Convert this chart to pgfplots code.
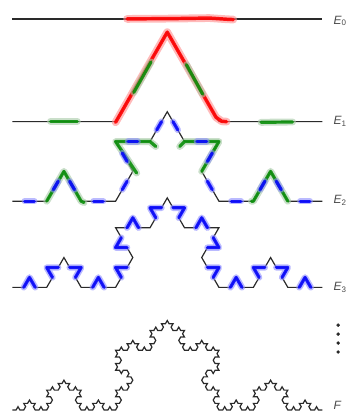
\documentclass[border=0pt]{standalone}
\usepackage{pgfplots}
\pgfplotsset{compat=1.18}
\usepackage{fontspec}
\setmainfont{Liberation Sans}
\definecolor{curve}{HTML}{2A2A2A}
\definecolor{lbl}{HTML}{4A4A4A}
\tikzset{
  curve/.style={draw=curve, line width=0.9pt, line join=miter, mark=none},
  redhl/.style={draw=red, line width=2.6pt, opacity=0.9, line cap=round, line join=round, mark=none,
     preaction={draw=red!45, line width=5.8pt, opacity=0.6, line cap=round, line join=round}},
  greenhl/.style={draw=green!55!black, line width=2.4pt, opacity=0.85, line cap=round, line join=round, mark=none,
     preaction={draw=green!40!black!35!white, line width=5.2pt, opacity=0.6, line cap=round, line join=round}},
  bluehl/.style={draw=blue, line width=2.4pt, opacity=0.85, line cap=round, line join=round, mark=none,
     preaction={draw=blue!45, line width=4.8pt, opacity=0.6, line cap=round, line join=round}},
  lab/.style={anchor=base west, inner sep=0pt, text=lbl, font=\fontsize{9}{10}\selectfont\itshape}
}
\begin{document}
\begin{tikzpicture}
\begin{axis}[
  at={(0,0)}, anchor=south west,
  x=1.4352pt, y=2.4858pt,
  xmin=0, xmax=162, ymin=0, ymax=118,
  hide axis, clip=false,
]
% ---------- black curves ----------
% E0
\addplot[curve] coordinates {(0,118) (162,118)};
% E1
\addplot[curve] coordinates {(0,87) (54,87) (81,114) (108,87) (162,87)};
% E2
\addplot[curve] coordinates {(0,63) (18,63) (27,72) (36,63) (54,63) (63,72) (54,81) (72,81) (81,90) (90,81) (108,81) (99,72) (108,63) (126,63) (135,72) (144,63) (162,63)};
% E3
\addplot[curve] coordinates {
(0,37) (6,37) (9,40) (12,37)
(18,37) (21,40) (18,43) (24,43)
(27,46) (30,43) (36,43) (33,40)
(36,37) (42,37) (45,40) (48,37)
(54,37) (57,40) (54,43) (60,43)
(63,46) (60,49) (54,49) (57,52)
(54,55) (60,55) (63,58) (66,55)
(72,55) (75,58) (72,61) (78,61)
(81,64) (84,61) (90,61) (87,58)
(90,55) (96,55) (99,58) (102,55)
(108,55) (105,52) (108,49) (102,49)
(99,46) (102,43) (108,43) (105,40)
(108,37) (114,37) (117,40) (120,37)
(126,37) (129,40) (126,43) (132,43)
(135,46) (138,43) (144,43) (141,40)
(144,37) (150,37) (153,40) (156,37)
(162,37)};
% F (level 4)
\addplot[curve] coordinates {
(0,0) (2,0) (3,1) (4,0)
(6,0) (7,1) (6,2) (8,2)
(9,3) (10,2) (12,2) (11,1)
(12,0) (14,0) (15,1) (16,0)
(18,0) (19,1) (18,2) (20,2)
(21,3) (20,4) (18,4) (19,5)
(18,6) (20,6) (21,7) (22,6)
(24,6) (25,7) (24,8) (26,8)
(27,9) (28,8) (30,8) (29,7)
(30,6) (32,6) (33,7) (34,6)
(36,6) (35,5) (36,4) (34,4)
(33,3) (34,2) (36,2) (35,1)
(36,0) (38,0) (39,1) (40,0)
(42,0) (43,1) (42,2) (44,2)
(45,3) (46,2) (48,2) (47,1)
(48,0) (50,0) (51,1) (52,0)
(54,0) (55,1) (54,2) (56,2)
(57,3) (56,4) (54,4) (55,5)
(54,6) (56,6) (57,7) (58,6)
(60,6) (61,7) (60,8) (62,8)
(63,9) (62,10) (60,10) (61,11)
(60,12) (58,12) (57,11) (56,12)
(54,12) (55,13) (54,14) (56,14)
(57,15) (56,16) (54,16) (55,17)
(54,18) (56,18) (57,19) (58,18)
(60,18) (61,19) (60,20) (62,20)
(63,21) (64,20) (66,20) (65,19)
(66,18) (68,18) (69,19) (70,18)
(72,18) (73,19) (72,20) (74,20)
(75,21) (74,22) (72,22) (73,23)
(72,24) (74,24) (75,25) (76,24)
(78,24) (79,25) (78,26) (80,26)
(81,27) (82,26) (84,26) (83,25)
(84,24) (86,24) (87,25) (88,24)
(90,24) (89,23) (90,22) (88,22)
(87,21) (88,20) (90,20) (89,19)
(90,18) (92,18) (93,19) (94,18)
(96,18) (97,19) (96,20) (98,20)
(99,21) (100,20) (102,20) (101,19)
(102,18) (104,18) (105,19) (106,18)
(108,18) (107,17) (108,16) (106,16)
(105,15) (106,14) (108,14) (107,13)
(108,12) (106,12) (105,11) (104,12)
(102,12) (101,11) (102,10) (100,10)
(99,9) (100,8) (102,8) (101,7)
(102,6) (104,6) (105,7) (106,6)
(108,6) (107,5) (108,4) (106,4)
(105,3) (106,2) (108,2) (107,1)
(108,0) (110,0) (111,1) (112,0)
(114,0) (115,1) (114,2) (116,2)
(117,3) (118,2) (120,2) (119,1)
(120,0) (122,0) (123,1) (124,0)
(126,0) (127,1) (126,2) (128,2)
(129,3) (128,4) (126,4) (127,5)
(126,6) (128,6) (129,7) (130,6)
(132,6) (133,7) (132,8) (134,8)
(135,9) (136,8) (138,8) (137,7)
(138,6) (140,6) (141,7) (142,6)
(144,6) (143,5) (144,4) (142,4)
(141,3) (142,2) (144,2) (143,1)
(144,0) (146,0) (147,1) (148,0)
(150,0) (151,1) (150,2) (152,2)
(153,3) (154,2) (156,2) (155,1)
(156,0) (158,0) (159,1) (160,0)
(162,0)};
% ---------- red highlights ----------
\addplot[redhl] coordinates {(60,118) (85,118.1) (103,118.25) (112,117.9) (115.5,117.8)};
\addplot[redhl] coordinates {(54,86.8) (81,114) (106.5,88.3) (109.5,87.1) (112,87)};
% ---------- green highlights ----------
\addplot[greenhl] coordinates {(20,87.1) (34,87.1)};
\addplot[greenhl] coordinates {(63.5,95.8) (72.5,105)};
\addplot[greenhl] coordinates {(91,104.2) (99.5,95.3)};
\addplot[greenhl] coordinates {(130,86.8) (146.5,86.9)};
\addplot[greenhl] coordinates {(18,63) (27,72) (36,63) (37.5,62.6)};
\addplot[greenhl] coordinates {(65,71.5) (54,81) (72,81) (75,79.5)};
\addplot[greenhl] coordinates {(87.5,79.5) (90,81) (108,81) (99,72)};
\addplot[greenhl] coordinates {(125,63) (126,63) (135,72) (144,63)};
% ---------- blue dashes on E2 ----------
\addplot[bluehl] coordinates {(6.5,63) (11.5,63)};
\addplot[bluehl] coordinates {(21.5,66.5) (24,69)};
\addplot[bluehl] coordinates {(30,69) (32.5,66.5)};
\addplot[bluehl] coordinates {(42.5,63) (47.5,63)};
\addplot[bluehl] coordinates {(57.5,66.5) (60,69)};
\addplot[bluehl] coordinates {(60,75) (57.5,77.5)};
\addplot[bluehl] coordinates {(60.5,81) (65.5,81)};
\addplot[bluehl] coordinates {(75.5,84.5) (78,87)};
\addplot[bluehl] coordinates {(84,87) (86.5,84.5)};
\addplot[bluehl] coordinates {(96.5,81) (101.5,81)};
\addplot[bluehl] coordinates {(104.5,77.5) (102,75)};
\addplot[bluehl] coordinates {(102,69) (104.5,66.5)};
\addplot[bluehl] coordinates {(114.5,63) (119.5,63)};
\addplot[bluehl] coordinates {(129.5,66.5) (132,69)};
\addplot[bluehl] coordinates {(138,69) (140.5,66.5)};
\addplot[bluehl] coordinates {(150.5,63) (155.5,63)};
% ---------- blue bumps on E3 ----------
\addplot[bluehl] coordinates {(6,37) (9,40) (12,37)};
\addplot[bluehl] coordinates {(21,40) (18,43) (24,43)};
\addplot[bluehl] coordinates {(30,43) (36,43) (33,40)};
\addplot[bluehl] coordinates {(42,37) (45,40) (48,37)};
\addplot[bluehl] coordinates {(57,40) (54,43) (60,43)};
\addplot[bluehl] coordinates {(60,49) (54,49) (57,52)};
\addplot[bluehl] coordinates {(60,55) (63,58) (66,55)};
\addplot[bluehl] coordinates {(75,58) (72,61) (78,61)};
\addplot[bluehl] coordinates {(84,61) (90,61) (87,58)};
\addplot[bluehl] coordinates {(96,55) (99,58) (102,55)};
\addplot[bluehl] coordinates {(105,52) (108,49) (102,49)};
\addplot[bluehl] coordinates {(102,43) (108,43) (105,40)};
\addplot[bluehl] coordinates {(114,37) (117,40) (120,37)};
\addplot[bluehl] coordinates {(129,40) (126,43) (132,43)};
\addplot[bluehl] coordinates {(138,43) (144,43) (141,40)};
\addplot[bluehl] coordinates {(150,37) (153,40) (156,37)};
% ---------- vertical dots ----------
\addplot[only marks, mark=*, mark size=1.1pt, color=black!85] coordinates {(170.3,25.6) (170.3,22.9) (170.3,20.2) (170.3,17.5)};
% ---------- labels ----------
\node[lab] at (axis cs:167.8,116.4) {E\textsubscript{\upshape 0}};
\node[lab] at (axis cs:167.8,86.0) {E\textsubscript{\upshape 1}};
\node[lab] at (axis cs:167.8,62.2) {E\textsubscript{\upshape 2}};
\node[lab] at (axis cs:167.8,36.0) {E\textsubscript{\upshape 3}};
\node[lab] at (axis cs:167.8,0.0) {F};
\end{axis}
\pgfresetboundingbox
\useasboundingbox (-9.2pt,-1.5pt) rectangle (253.3pt,307.5pt);
\end{tikzpicture}
\end{document}
